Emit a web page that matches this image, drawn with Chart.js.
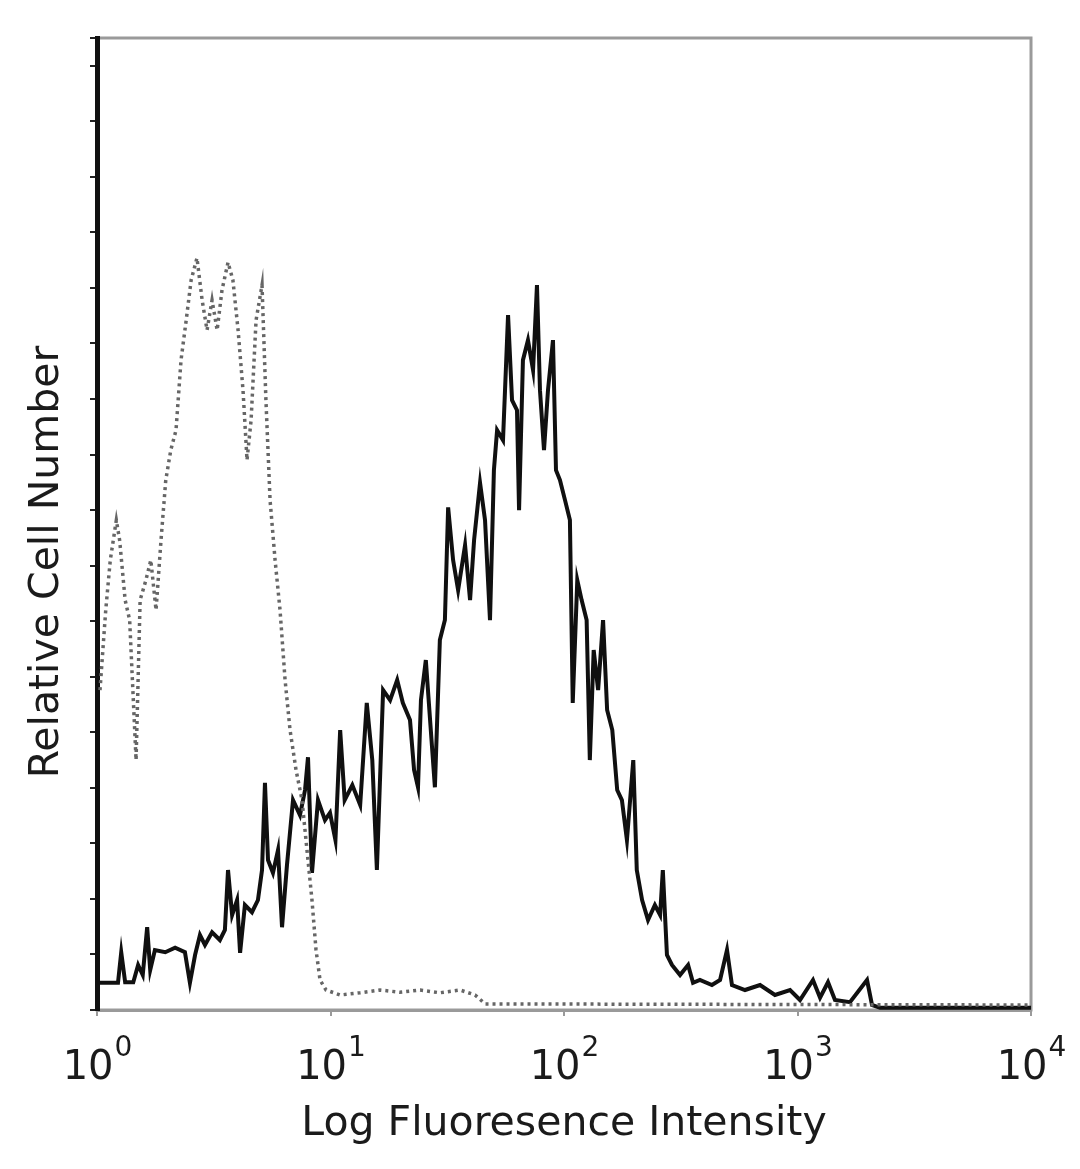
<!DOCTYPE html>
<html>
<head>
<meta charset="utf-8">
<script src="https://cdn.jsdelivr.net/npm/chart.js@4.4.1/dist/chart.umd.min.js"></script>
<style>
  html, body { margin: 0; padding: 0; background: #fff; }
  #wrap { width: 1080px; height: 1169px; }
</style>
</head>
<body>
<div id="wrap"><canvas id="histo" width="1080" height="1169"></canvas></div>
<script>
// stained sample (solid black trace)
const sampleIntensity = [1.00, 1.23, 1.27, 1.32, 1.43, 1.50, 1.57, 1.64, 1.69, 1.77, 1.96, 2.16, 2.38, 2.50, 2.63, 2.76,
  2.90, 3.11, 3.36, 3.53, 3.64, 3.79, 3.98, 4.10, 4.30, 4.61, 4.89, 5.09, 5.24, 5.40, 5.67, 5.96, 6.20, 6.51, 6.91,
  7.40, 7.78, 8.01, 8.33, 8.84, 9.47, 9.95, 10.5, 11.0, 11.5, 12.4, 13.4, 14.3, 15.1, 15.8, 16.8, 18.0, 19.3, 20.4,
  21.9, 22.8, 23.7, 24.4, 25.6, 26.7, 28.0, 29.4, 30.9, 31.9, 33.5, 35.2, 37.7, 39.6, 41.2, 43.7, 45.9, 48.2, 50.1,
  51.7, 54.8, 57.6, 59.9, 62.9, 64.2, 66.7, 70.1, 73.7, 76.6, 78.9, 82.1, 85.4, 89.7, 92.4, 96.1, 101, 106, 109, 114,
  119, 125, 129, 134, 140, 147, 153, 161, 169, 177, 186, 198, 205, 216, 229, 245, 258, 265, 276, 290, 314, 340, 357,
  382, 430, 466, 499, 524, 596, 691, 801, 929, 1025, 1165, 1249, 1351, 1447, 1678, 1985, 2085, 2256, 10000];
const sampleCount = [4.9, 4.9, 10.4, 5.0, 5.0, 8.1, 6.3, 14.9, 7.2, 10.8, 10.4, 11.2, 10.4, 4.9, 9.9, 13.5,
  11.7, 14.0, 12.6, 14.4, 25.2, 17.1, 19.8, 10.3, 18.9, 17.6, 19.8, 25.2, 40.9, 27.0, 24.7, 28.8, 14.9, 26.1, 37.8,
  35.1, 39.6, 45.5, 24.7, 37.8, 34.2, 35.5, 30.6, 50.4, 37.8, 40.5, 36.9, 55.3, 45.0, 25.2, 57.6, 55.8, 59.4, 55.3,
  52.2, 43.2, 40.1, 55.8, 63.0, 52.2, 40.1, 66.6, 70.2, 90.5, 81.0, 75.6, 83.7, 73.8, 84.6, 94.9, 88.2, 70.2, 97.2,
  104.4, 102.6, 125.1, 109.8, 108.0, 90.0, 117.0, 120.6, 115.2, 130.5, 111.6, 100.8, 111.6, 120.6, 97.2, 95.4, 91.8, 88.2, 55.3, 77.4,
  73.8, 70.2, 45.0, 64.8, 57.6, 70.2, 54.0, 50.4, 39.6, 37.8, 30.6, 45.0, 25.2, 19.8, 16.2, 18.9, 17.1, 25.2, 9.9,
  8.1, 6.3, 8.1, 4.9, 5.4, 4.5, 5.4, 10.8, 4.5, 3.6, 4.5, 2.7, 3.6, 1.8, 5.4, 2.2, 5.0, 1.8, 1.4, 5.4, 0.9, 0.4, 0.4];

// isotype control (dotted grey trace)
const controlIntensity = [1.03, 1.09, 1.14, 1.21, 1.25, 1.32, 1.38, 1.47, 1.53, 1.62, 1.70, 1.79, 1.88, 1.97, 2.07,
  2.18, 2.29, 2.41, 2.53, 2.68, 2.82, 2.96, 3.11, 3.27, 3.43, 3.64, 3.82, 4.02, 4.22, 4.39, 4.57, 4.80, 5.09, 5.29,
  5.51, 5.79, 6.08, 6.39, 6.71, 7.12, 7.55, 7.93, 8.33, 8.67, 9.02, 9.57, 11.0, 13.4, 16.3, 19.8, 24.2, 29.4, 35.9,
  41.6, 45.9, 10000];
const controlCount = [57.6, 72.0, 81.0, 88.2, 84.6, 73.8, 70.2, 45.0, 73.8, 77.4, 81.0, 72.0, 84.6, 95.4, 100.8,
  104.4, 117.0, 124.2, 131.4, 135.4, 127.8, 122.4, 127.8, 122.4, 129.6, 134.6, 131.4, 122.4, 111.6, 99.0, 106.2, 124.2,
  130.5, 109.8, 91.8, 81.0, 72.0, 59.4, 50.4, 43.2, 37.8, 28.8, 19.8, 10.8, 5.4, 3.6, 2.7, 3.1, 3.6, 3.2, 3.6, 3.1,
  3.6, 2.7, 1.1, 0.9];

// axis ticks
const decadeTicks = [1, 10, 100, 1000, 10000];
const tickBase = "10";
const tickExponents = ["0", "1", "2", "3", "4"];
const xTitle = "Log Fluoresence Intensity";
const yTitle = "Relative Cell Number";

const txtColor = "#1b1b1b";
const labelFont = "'DejaVu Sans', sans-serif";

function toPoints(xs, ys) {
  return xs.map((x, i) => ({ x: x, y: ys[i] }));
}

// gray frame round the plot (left axis is drawn on top by the scale)
const framePlugin = {
  id: "frame",
  beforeDraw(chart) {
    const { ctx, chartArea: a } = chart;
    ctx.save();
    ctx.strokeStyle = "#9a9a9a";
    ctx.lineWidth = 3;
    ctx.strokeRect(a.left, a.top, a.right - a.left, a.bottom - a.top);
    ctx.restore();
  }
};

// decade labels 10^n and the rotated y title
const labelPlugin = {
  id: "labels",
  afterDraw(chart) {
    const { ctx } = chart;
    const xs = chart.scales.x;
    ctx.save();
    ctx.fillStyle = txtColor;
    ctx.textBaseline = "alphabetic";
    ctx.textAlign = "left";
    decadeTicks.forEach((v, i) => {
      const px = xs.getPixelForValue(v);
      ctx.font = "40px " + labelFont;
      const w1 = ctx.measureText(tickBase).width;
      ctx.font = "28px " + labelFont;
      const w2 = ctx.measureText(tickExponents[i]).width;
      const start = px - (w1 + w2) / 2;
      ctx.font = "40px " + labelFont;
      ctx.fillText(tickBase, start, 1079);
      ctx.font = "28px " + labelFont;
      ctx.fillText(tickExponents[i], start + w1 + 1, 1056);
    });

    ctx.font = "41px " + labelFont;
    ctx.textAlign = "center";
    ctx.textBaseline = "middle";
    ctx.translate(47, 562);
    ctx.rotate(-Math.PI / 2);
    ctx.fillText(yTitle, 0, 0);
    ctx.restore();
  }
};

new Chart(document.getElementById("histo"), {
  type: "line",
  data: {
    datasets: [
      {
        label: "control",
        data: toPoints(controlIntensity, controlCount),
        borderColor: "#666666",
        borderWidth: 3.5,
        borderDash: [3, 4],
        pointRadius: 0,
        tension: 0,
        fill: false
      },
      {
        label: "sample",
        data: toPoints(sampleIntensity, sampleCount),
        borderColor: "#101010",
        borderWidth: 4,
        pointRadius: 0,
        tension: 0,
        fill: false
      }
    ]
  },
  options: {
    responsive: false,
    animation: false,
    devicePixelRatio: 1,
    layout: { padding: { left: 0, top: 38, right: 49, bottom: 0 } },
    plugins: {
      legend: { display: false },
      tooltip: { enabled: false }
    },
    scales: {
      x: {
        type: "logarithmic",
        min: 1,
        max: 10000,
        afterBuildTicks: scale => { scale.ticks = decadeTicks.map(v => ({ value: v })); },
        afterFit: scale => { scale.height = 159; },
        ticks: { display: false },
        grid: { drawOnChartArea: false, drawTicks: true, tickLength: 6, color: "#9a9a9a", lineWidth: 2 },
        border: { color: "#9a9a9a", width: 3 },
        title: {
          display: true,
          text: xTitle,
          color: txtColor,
          font: { family: labelFont, size: 41 },
          padding: { top: 0, bottom: 20 }
        }
      },
      y: {
        type: "linear",
        min: 0,
        max: 175,
        afterFit: scale => { scale.width = 97; },
        ticks: { display: false, stepSize: 10 },
        grid: { drawOnChartArea: false, drawTicks: true, tickLength: 7, color: "#222", lineWidth: 2 },
        border: { color: "#111", width: 5 }
      }
    }
  },
  plugins: [framePlugin, labelPlugin]
});
</script>
</body>
</html>
